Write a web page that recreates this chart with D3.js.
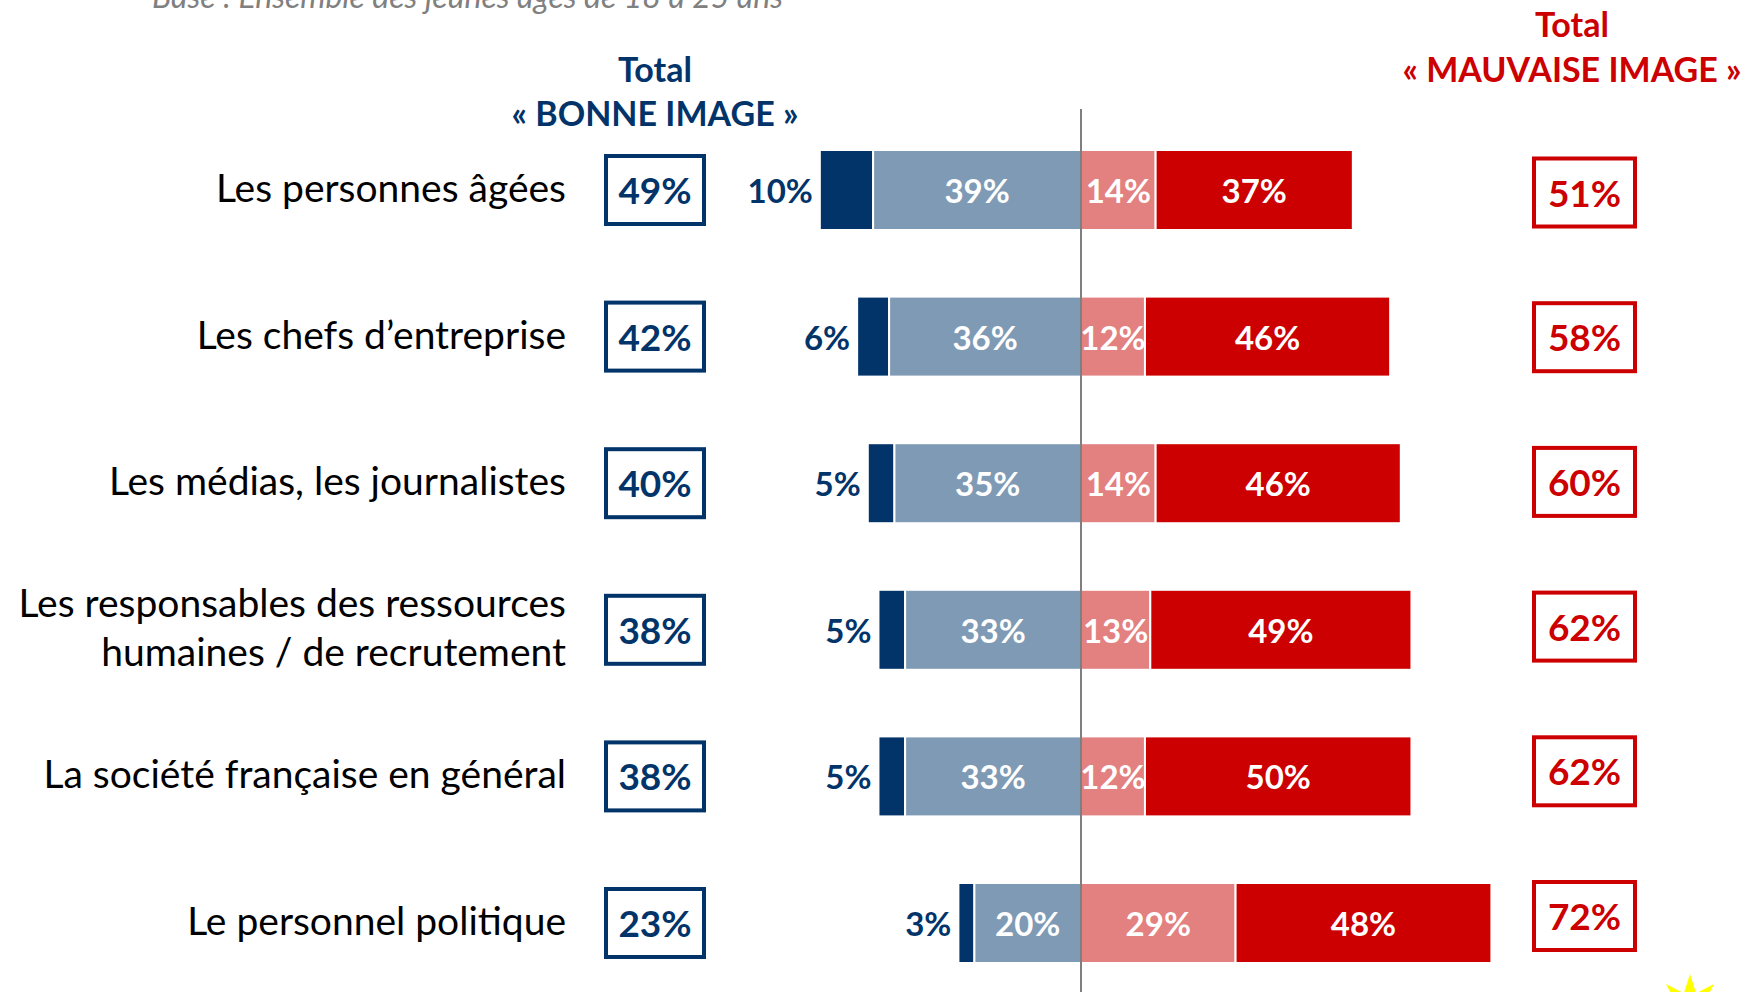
<!DOCTYPE html>
<html>
<head>
<meta charset="utf-8">
<script src="https://cdn.jsdelivr.net/npm/d3@7"></script>
<style>
  html, body { margin: 0; padding: 0; background: #fff; }
  svg { display: block; font-family: Lato, "Open Sans", sans-serif; }
</style>
</head>
<body>
<svg id="chart" width="1745" height="992"></svg>
<script>
// ---- data ----
const categories = [
  "Les personnes âgées",
  "Les chefs d’entreprise",
  "Les médias, les journalistes",
  "Les responsables des ressources\nhumaines / de recrutement",
  "La société française en général",
  "Le personnel politique"
];
const tresBonne      = [10, 6, 5, 5, 5, 3];
const plutotBonne    = [39, 36, 35, 33, 33, 20];
const plutotMauvaise = [14, 12, 14, 13, 12, 29];
const tresMauvaise   = [37, 46, 46, 49, 50, 48];
const totalBonne     = [49, 42, 40, 38, 38, 23];
const totalMauvaise  = [51, 58, 60, 62, 62, 72];
const subtitle = "Base : Ensemble des jeunes âgés de 18 à 25 ans";
const headerBonne = ["Total", "« BONNE IMAGE »"];
const headerMauvaise = ["Total", "« MAUVAISE IMAGE »"];

// ---- styles ----
const NAVY = "#02346a", LBLUE = "#7f9ab5", LRED = "#e38080", RED = "#cc0000", GREY = "#7f7f7f";

const svg = d3.select("#chart");

const x = d3.scaleLinear().domain([-50, 70]).range([1081 - 50 * 5.33, 1081 + 70 * 5.33]);
const y = d3.scalePoint().domain(d3.range(categories.length)).range([190, 923]);
const yBoxR = d3.scalePoint().domain(d3.range(categories.length)).range([192.5, 916]);
const barH = 80;

const rows = categories.map((c, i) => ({
  i, cat: c,
  segs: [
    { x0: -(tresBonne[i] + plutotBonne[i]), x1: -plutotBonne[i], v: tresBonne[i], fill: NAVY, inside: false },
    { x0: -plutotBonne[i], x1: 0, v: plutotBonne[i], fill: LBLUE, inside: true },
    { x0: 0, x1: plutotMauvaise[i], v: plutotMauvaise[i], fill: LRED, inside: true },
    { x0: plutotMauvaise[i], x1: plutotMauvaise[i] + tresMauvaise[i], v: tresMauvaise[i], fill: RED, inside: true }
  ]
}));

// subtitle (cut at top)
svg.append("text")
  .attr("x", 152).attr("y", 8)
  .attr("font-size", 32).attr("font-style", "italic")
  .attr("fill", "#808080")
  .text(subtitle);

// headers
const hb = svg.append("text").attr("x", 655).attr("text-anchor", "middle")
  .attr("font-weight", "bold").attr("font-size", 34).attr("fill", NAVY);
headerBonne.forEach((t, k) => hb.append("tspan").attr("x", 655).attr("y", 82 + k * 44).text(t));
const hm = svg.append("text").attr("x", 1572).attr("text-anchor", "middle")
  .attr("font-weight", "bold").attr("font-size", 34).attr("fill", RED);
headerMauvaise.forEach((t, k) => hm.append("tspan").attr("x", 1572).attr("y", 37 + k * 45).text(t));

// bars
const g = svg.selectAll("g.row").data(rows).join("g").attr("class", "row");

g.selectAll("rect.seg").data(d => d.segs.map(s => ({ ...s, i: d.i }))).join("rect")
  .attr("class", "seg")
  .attr("x", s => x(s.x0))
  .attr("width", s => x(s.x1) - x(s.x0))
  .attr("y", s => y(s.i) - barH / 2)
  .attr("height", barH)
  .attr("fill", s => s.fill)
  .attr("stroke", "#fff").attr("stroke-width", 2);

g.selectAll("text.in").data(d => d.segs.filter(s => s.inside).map(s => ({ ...s, i: d.i }))).join("text")
  .attr("class", "in")
  .attr("x", s => (x(s.x0) + x(s.x1)) / 2)
  .attr("y", s => y(s.i) + 13)
  .attr("text-anchor", "middle")
  .attr("font-weight", "bold").attr("font-size", 33).attr("fill", "#fff")
  .text(s => s.v + "%");

g.append("text")
  .attr("x", d => x(d.segs[0].x0) - 7)
  .attr("y", d => y(d.i) + 13)
  .attr("text-anchor", "end")
  .attr("font-weight", "bold").attr("font-size", 33).attr("fill", NAVY)
  .text(d => tresBonne[d.i] + "%");

// category labels
g.each(function(d) {
  const lines = d.cat.split("\n");
  const t = d3.select(this).append("text")
    .attr("text-anchor", "end").attr("font-size", 39).attr("fill", "#000");
  const lh = 49;
  const base = y(d.i) + 12 - (lines.length - 1) * lh / 2;
  lines.forEach((l, k) => t.append("tspan").attr("x", 566).attr("y", base + k * lh).text(l));
});

// total boxes
g.append("rect")
  .attr("x", 606).attr("width", 98)
  .attr("y", d => y(d.i) - 34).attr("height", 68)
  .attr("fill", "none").attr("stroke", NAVY).attr("stroke-width", 4);
g.append("text")
  .attr("x", 655).attr("y", d => y(d.i) + 14)
  .attr("text-anchor", "middle").attr("font-weight", "bold").attr("font-size", 37).attr("fill", NAVY)
  .text(d => totalBonne[d.i] + "%");

g.append("rect")
  .attr("x", 1534).attr("width", 101)
  .attr("y", d => yBoxR(d.i) - 34).attr("height", 68)
  .attr("fill", "none").attr("stroke", RED).attr("stroke-width", 4);
g.append("text")
  .attr("x", 1584.5).attr("y", d => yBoxR(d.i) + 14)
  .attr("text-anchor", "middle").attr("font-weight", "bold").attr("font-size", 37).attr("fill", RED)
  .text(d => totalMauvaise[d.i] + "%");

// center line
svg.append("line")
  .attr("x1", x(0)).attr("x2", x(0))
  .attr("y1", 109).attr("y2", 992)
  .attr("stroke", GREY).attr("stroke-width", 2);

// partial yellow logo, bottom right
const star = d3.range(16).map(k => {
  const a = -Math.PI / 2 + k * Math.PI / 8;
  const r = k % 2 === 0 ? 34 : 16;
  return [1690 + r * Math.cos(a), 1008 + r * Math.sin(a)];
});
svg.append("path").attr("d", d3.line()(star) + "Z").attr("fill", "#ffff00");
</script>
</body>
</html>
